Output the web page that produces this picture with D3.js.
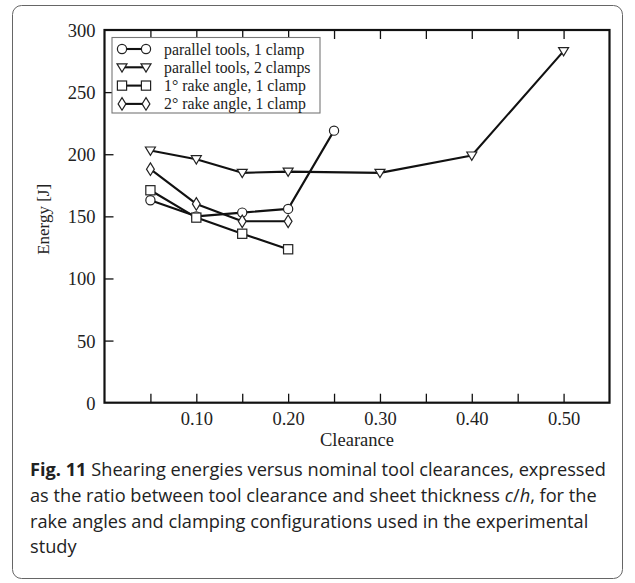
<!DOCTYPE html>
<html><head><meta charset="utf-8">
<script src="https://cdn.jsdelivr.net/npm/d3@7/dist/d3.min.js"></script>
<style>
html,body{margin:0;padding:0;background:#fff;}
svg{display:block;}
</style></head>
<body>
<svg id="chart" width="635" height="583"></svg>
<script>
// ---- data ----
const seriesNames = ["parallel tools, 1 clamp", "parallel tools, 2 clamps", "1° rake angle, 1 clamp", "2° rake angle, 1 clamp"];
const seriesSymbols = ["circle", "triangleDown", "square", "diamond"];
const clearance1 = [0.05, 0.10, 0.15, 0.20, 0.25];
const energy1 = [163, 150, 153, 156, 219];
const clearance2 = [0.05, 0.10, 0.15, 0.20, 0.30, 0.40, 0.50];
const energy2 = [203, 196, 185, 186, 185, 199, 283];
const clearance3 = [0.05, 0.10, 0.15, 0.20];
const energy3 = [171, 149, 136, 123.5];
const clearance4 = [0.05, 0.10, 0.15, 0.20];
const energy4 = [188, 160, 146, 146];
const xTickValues = [0.05, 0.10, 0.15, 0.20, 0.25, 0.30, 0.35, 0.40, 0.45, 0.50];
const xTickLabels = ["", "0.10", "", "0.20", "", "0.30", "", "0.40", "", "0.50"];
const yTickValues = [0, 50, 100, 150, 200, 250, 300];
const xTitle = "Clearance";
const yTitle = "Energy [J]";
const captionBold = "Fig. 11";
const captionLines = [
  " Shearing energies versus nominal tool clearances, expressed",
  "as the ratio between tool clearance and sheet thickness ",
  "rake angles and clamping configurations used in the experimental",
  "study"
];

const series = [
  {name: seriesNames[0], sym: seriesSymbols[0], xs: clearance1, ys: energy1},
  {name: seriesNames[1], sym: seriesSymbols[1], xs: clearance2, ys: energy2},
  {name: seriesNames[2], sym: seriesSymbols[2], xs: clearance3, ys: energy3},
  {name: seriesNames[3], sym: seriesSymbols[3], xs: clearance4, ys: energy4}
];

// ---- layout ----
const svg = d3.select("#chart");
const L = 104.5, R = 609.5, T = 30, B = 402.7;
const serif = "'Liberation Serif', 'DejaVu Serif', serif";
const sans = "'Open Sans', 'Noto Sans', sans-serif";

// outer rounded border
svg.append("rect").attr("x", 12.5).attr("y", 5.5).attr("width", 610).attr("height", 573)
  .attr("rx", 9).attr("fill", "none").attr("stroke", "#666").attr("stroke-width", 1);

const x = d3.scaleLinear().domain([0, 0.55]).range([L, R]);
const y = d3.scaleLinear().domain([0, 300]).range([B, T]);

// axes
const gx = svg.append("g").attr("transform", `translate(0,${B})`)
  .call(d3.axisBottom(x).tickValues(xTickValues).tickSize(-9).tickPadding(9)
    .tickFormat((d, i) => xTickLabels[i]));
const gxt = svg.append("g").attr("transform", `translate(0,${T})`)
  .call(d3.axisTop(x).tickValues(xTickValues).tickSize(-9).tickFormat(""));
const gy = svg.append("g").attr("transform", `translate(${L},0)`)
  .call(d3.axisLeft(y).tickValues(yTickValues).tickSize(-9).tickPadding(9)
    .tickFormat(d3.format("d")));
[gx, gxt, gy].forEach(g => {
  g.select(".domain").remove();
  g.selectAll(".tick line").attr("stroke", "#111").attr("stroke-width", 1.3);
  g.selectAll(".tick text").attr("fill", "#222").style("font-family", serif).style("font-size", "18.5px");
});
gy.selectAll(".tick").filter(d => d === 0 || d === 300).select("line").remove();
gy.selectAll(".tick text").attr("dy", "0.35em");

// frame
svg.append("rect").attr("x", L).attr("y", T).attr("width", R - L).attr("height", B - T)
  .attr("fill", "none").attr("stroke", "#111").attr("stroke-width", 2.2);

// axis titles
svg.append("text").attr("x", (L + R) / 2).attr("y", 446).attr("text-anchor", "middle")
  .style("font-family", serif).style("font-size", "18.5px").attr("fill", "#222").text(xTitle);
svg.append("text").attr("transform", `translate(49,${(T + B) / 2 + 3}) rotate(-90)`)
  .attr("text-anchor", "middle")
  .style("font-family", serif).style("font-size", "17px").attr("fill", "#222").text(yTitle);

// symbol drawing
function drawSymbol(g, sym, cx, cy) {
  let el;
  if (sym === "circle") {
    el = g.append("circle").attr("cx", cx).attr("cy", cy).attr("r", 4.6);
  } else if (sym === "square") {
    el = g.append("rect").attr("x", cx - 4.6).attr("y", cy - 4.6).attr("width", 9.2).attr("height", 9.2);
  } else if (sym === "triangleDown") {
    el = g.append("path").attr("d", `M${cx - 5},${cy - 3.5}L${cx + 5},${cy - 3.5}L${cx},${cy + 4.8}Z`);
  } else {
    el = g.append("path").attr("d", `M${cx},${cy - 6.3}L${cx + 3.9},${cy}L${cx},${cy + 6.3}L${cx - 3.9},${cy}Z`);
  }
  el.attr("fill", "#fff").attr("stroke", "#222").attr("stroke-width", 1.2);
}

const line = d3.line().x(d => x(d[0])).y(d => y(d[1]));
series.forEach(s => {
  const g = svg.append("g");
  const pts = s.xs.map((v, i) => [v, s.ys[i]]);
  g.append("path").attr("d", line(pts)).attr("fill", "none").attr("stroke", "#111")
    .attr("stroke-width", 2.1).attr("stroke-linejoin", "round");
  pts.forEach(p => drawSymbol(g, s.sym, x(p[0]), y(p[1])));
});

// legend
const lg = svg.append("g");
const lgX = 112, lgY = 37.5, lgW = 208, rowH = 18.3;
lg.append("rect").attr("x", lgX).attr("y", lgY).attr("width", lgW).attr("height", 75.5)
  .attr("fill", "#fff").attr("stroke", "#777").attr("stroke-width", 1.1);
series.forEach((s, i) => {
  const cy = lgY + 11.5 + i * rowH;
  lg.append("line").attr("x1", 122).attr("x2", 146).attr("y1", cy).attr("y2", cy)
    .attr("stroke", "#111").attr("stroke-width", 2.1);
  drawSymbol(lg, s.sym, 122, cy);
  drawSymbol(lg, s.sym, 146, cy);
  lg.append("text").attr("x", 164).attr("y", cy).attr("dy", "0.35em")
    .style("font-family", serif).style("font-size", "15.8px").attr("fill", "#222").text(s.name);
});

// caption
const cap = svg.append("g").style("font-family", sans).style("font-size", "18.2px").attr("fill", "#222");
const capY0 = 476, capDY = 25.8;
const t0 = cap.append("text").attr("x", 30).attr("y", capY0);
t0.append("tspan").style("font-weight", "bold").text(captionBold);
t0.append("tspan").text(captionLines[0]);
const t1 = cap.append("text").attr("x", 30).attr("y", capY0 + capDY);
t1.append("tspan").text(captionLines[1]);
t1.append("tspan").style("font-style", "italic").text("c");
t1.append("tspan").text("/");
t1.append("tspan").style("font-style", "italic").text("h");
t1.append("tspan").text(", for the");
cap.append("text").attr("x", 30).attr("y", capY0 + 2 * capDY).text(captionLines[2]);
cap.append("text").attr("x", 30).attr("y", capY0 + 3 * capDY).text(captionLines[3]);
</script>
</body></html>
